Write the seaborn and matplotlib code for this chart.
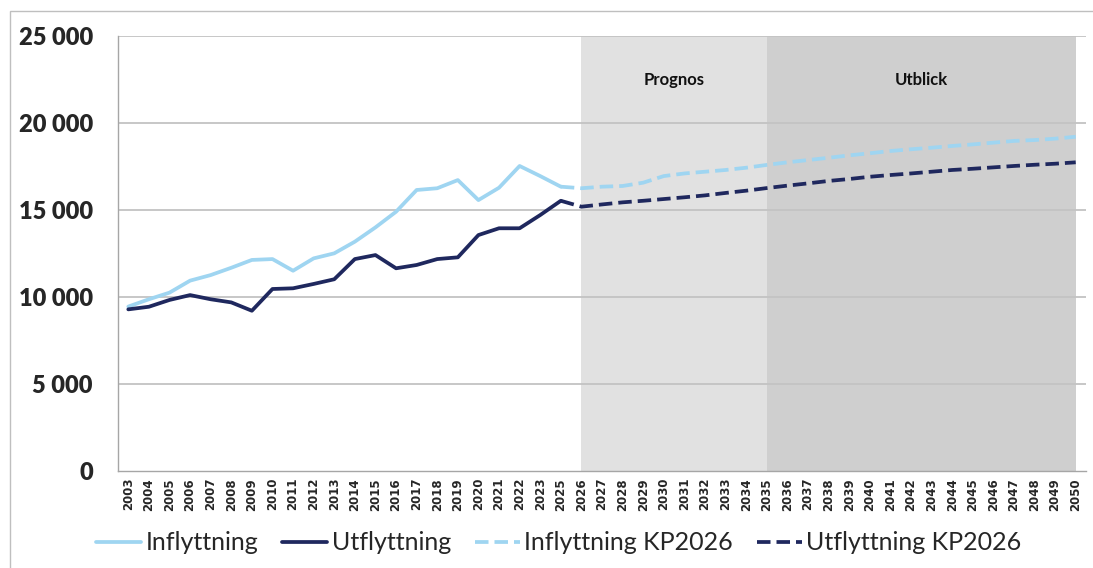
import pandas as pd
import matplotlib
matplotlib.use("Agg")
import matplotlib.pyplot as plt
from matplotlib.patches import Rectangle
from matplotlib.ticker import FuncFormatter, FixedLocator
import seaborn as sns

# Data (2024 is not on the axis)
years = list(range(2003, 2024)) + list(range(2025, 2051))
years_hist = list(range(2003, 2024)) + [2025]
years_kp = list(range(2025, 2051))

inflyttning = [9450, 9870, 10250, 10940, 11260, 11680, 12130, 12180, 11510, 12220, 12510,
               13180, 14000, 14900, 16150, 16250, 16720, 15570, 16280, 17530, 16950, 16340]
utflyttning = [9290, 9440, 9830, 10110, 9870, 9690, 9210, 10460, 10500, 10750, 11020,
               12180, 12410, 11650, 11840, 12180, 12280, 13560, 13950, 13950, 14710, 15530]
inflyttning_kp = [16340, 16250, 16340, 16380, 16570, 16950, 17100, 17200, 17300, 17430, 17590,
                  17740, 17870, 18000, 18140, 18260, 18390, 18490, 18580, 18680, 18770, 18870,
                  18970, 19020, 19100, 19210]
utflyttning_kp = [15530, 15190, 15320, 15440, 15530, 15630, 15730, 15840, 15980, 16110, 16260,
                  16400, 16530, 16670, 16780, 16910, 17010, 17100, 17200, 17300, 17370, 17450,
                  17530, 17600, 17660, 17740]

periods = [("Prognos", 2026, 2035), ("Utblick", 2035, 2050)]

light = "#9fd5f1"
navy = "#1f285e"

sns.set_style("white")
plt.rcParams['font.family'] = ['Lato', 'DejaVu Sans']

pos = {y: i for i, y in enumerate(years)}
hist = pd.DataFrame({"pos": [pos[y] for y in years_hist], "Inflyttning": inflyttning, "Utflyttning": utflyttning})
kp = pd.DataFrame({"pos": [pos[y] for y in years_kp], "Inflyttning KP2026": inflyttning_kp,
                   "Utflyttning KP2026": utflyttning_kp})

fig = plt.figure(figsize=(10.93, 5.68), dpi=100)
ax = fig.add_axes([118 / 1093, 1 - 471 / 568, 968 / 1093, 435 / 568])

# shaded forecast periods
for name, a, b in periods:
    shade = "#e1e1e1" if name == "Prognos" else "#cfcfcf"
    ax.axvspan(pos[a], pos[b], color=shade, lw=0, zorder=0)
    ax.text((pos[a] + pos[b]) / 2, 22450, name, ha="center", va="center",
            fontsize=12, fontweight="bold", color="#111111")

for v in range(5000, 25001, 5000):
    ax.axhline(v, color="#c3c3c3", lw=1.3, zorder=1)

lw = 2.7
sns.lineplot(data=hist, x="pos", y="Inflyttning", color=light, lw=lw, label="Inflyttning", ax=ax, zorder=3)
sns.lineplot(data=hist, x="pos", y="Utflyttning", color=navy, lw=lw, label="Utflyttning", ax=ax, zorder=3)
sns.lineplot(data=kp, x="pos", y="Inflyttning KP2026", color=light, lw=lw, linestyle=(0, (3.6, 1.6)),
             label="Inflyttning KP2026", ax=ax, zorder=3)
sns.lineplot(data=kp, x="pos", y="Utflyttning KP2026", color=navy, lw=lw, linestyle=(0, (3.6, 1.6)),
             label="Utflyttning KP2026", ax=ax, zorder=3)

ax.set_xlim(-0.5, len(years) - 0.5)
ax.set_ylim(0, 25000)
ax.set_xlabel("")
ax.set_ylabel("")

ax.set_xticks(range(len(years)))
ax.set_xticklabels([str(y) for y in years], rotation=90, fontsize=8.5, fontweight="bold",
                   family="DejaVu Sans")
ax.xaxis.set_minor_locator(FixedLocator([i - 0.5 for i in range(len(years) + 1)]))
ax.tick_params(axis="x", which="major", length=0, pad=5)
ax.tick_params(axis="x", which="minor", length=5, color="#a6a6a6", width=1, direction="out")

ax.set_yticks(range(0, 25001, 5000))
ax.yaxis.set_major_formatter(FuncFormatter(lambda v, p: f"{int(v):,}".replace(",", " ")))
ax.tick_params(axis="y", length=8, color="#a6a6a6", width=1, direction="out", pad=10, labelsize=17)
for t in ax.get_yticklabels():
    t.set_fontweight("heavy")

for s in ["top", "right"]:
    ax.spines[s].set_visible(False)
for s in ["left", "bottom"]:
    ax.spines[s].set_color("#a6a6a6")
    ax.spines[s].set_linewidth(1)

ax.get_legend().remove()
handles, labels = ax.get_legend_handles_labels()
fig.legend(handles, labels, loc="center", bbox_to_anchor=(559 / 1093, 1 - 543 / 568), ncol=4,
           frameon=False, fontsize=18, handlelength=1.8, handletextpad=0.18, columnspacing=0.95)

fig.patches.append(Rectangle((10 / 1093, -0.02), 1.05, 1 - 11 / 568 + 0.02, transform=fig.transFigure,
                             fill=False, edgecolor="#bfbfbf", lw=1))

fig.savefig("out.png", dpi=100)
